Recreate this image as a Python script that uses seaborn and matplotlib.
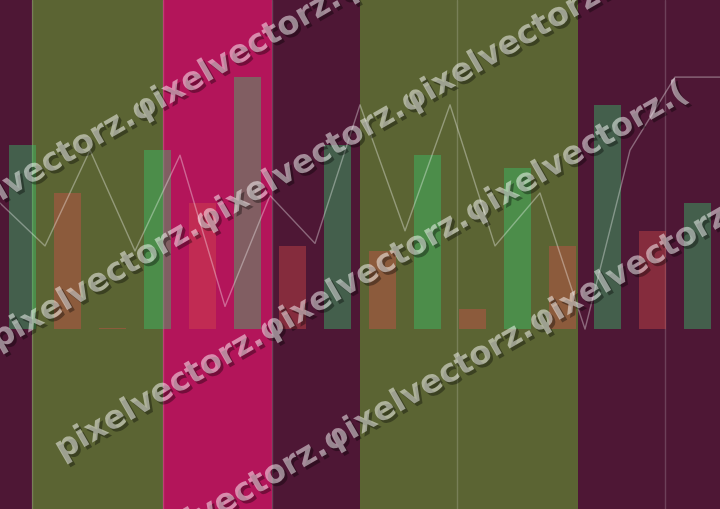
import matplotlib
matplotlib.use("Agg")
import matplotlib.patheffects as pe
import matplotlib.pyplot as plt
import pandas as pd
import seaborn as sns

# bar heights (0-100), one per slot, and whether the slot went up or down
bar_values = [73, 54, 0.5, 71, 50, 100, 33, 73, 31, 69, 8, 64, 33, 89, 39, 50]
bar_moves = ["up", "down", "down", "up", "down", "up", "down", "up",
             "down", "up", "down", "up", "down", "up", "down", "up"]

# thin line, one point per slot edge
line_values = [50, 33, 71, 31, 69, 9, 53, 34, 89, 39, 89, 33, 54, 0, 71, 100, 100]

# background bands in slot units
band_starts = [-0.5, 0.21, 3.12, 5.54, 7.5, 9.66, 12.34, 14.28]
band_ends = [0.21, 3.12, 5.54, 7.5, 9.66, 12.34, 14.28, 15.5]
band_kinds = ["dark", "olive", "pink", "dark", "olive", "olive", "dark", "dark"]
separators = [0.21, 3.12, 5.54, 9.66, 14.28]

watermark = "pixelvectorz.φixelvectorz.φixelvectorz.("

band_colors = {"dark": "#4e1735", "olive": "#5b6433", "pink": "#b3155a"}
move_colors = {"up": "#1ee669", "down": "#f03732"}

sns.set_theme(style="white")

fig = plt.figure(figsize=(7.2, 5.09), dpi=100)
ax = fig.add_axes([0, 0, 1, 1])

for start, end, kind in zip(band_starts, band_ends, band_kinds):
    ax.axvspan(start, end, color=band_colors[kind], lw=0, zorder=0)
for x in separators:
    ax.axvline(x, color="white", alpha=0.18, lw=1, zorder=1)

bars = pd.DataFrame({"slot": range(len(bar_values)), "value": bar_values, "move": bar_moves})
sns.barplot(data=bars, x="slot", y="value", hue="move", palette=move_colors,
            dodge=False, width=0.62, alpha=0.4, errorbar=None, legend=False,
            linewidth=0, edgecolor="none", ax=ax, zorder=2)

line_x = [i - 0.5 for i in range(len(line_values))]
sns.lineplot(x=line_x, y=line_values, color="white", alpha=0.35, lw=1, ax=ax, zorder=3)

ax.set_xlim(-0.5, 15.5)
ax.set_ylim(-71.4, 130.6)
ax.axis("off")

# diagonal watermark, four stacked lines
for k in range(4):
    px, py = -66 + 64 * k, 240 + 110 * k
    ax.text(px / 720, 1 - py / 509, watermark, transform=ax.transAxes,
            rotation=30, rotation_mode="anchor", ha="left", va="baseline",
            fontsize=23.3, fontweight="bold", color="white", alpha=0.5,
            path_effects=[pe.withSimplePatchShadow(offset=(2, -2), shadow_rgbFace="black", alpha=0.35)],
            zorder=5)

fig.savefig("out.png", dpi=100)
